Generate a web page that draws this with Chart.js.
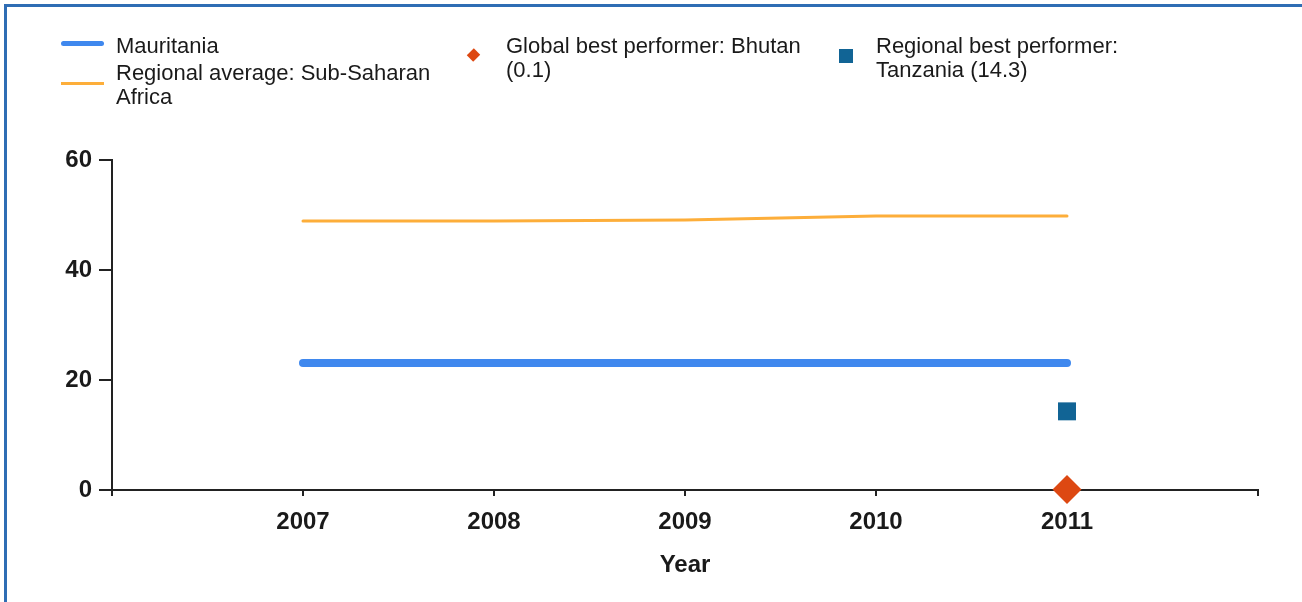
<!DOCTYPE html>
<html>
<head>
<meta charset="utf-8">
<script src="https://cdn.jsdelivr.net/npm/chart.js@4"></script>
<style>
  html, body { margin: 0; padding: 0; background: #fff; }
  #wrap { position: relative; width: 1302px; height: 602px; overflow: hidden; }
  #frame { position: absolute; left: 4px; top: 4px; right: -10px; bottom: -10px;
           border-top: 3px solid #2f6db4; border-left: 3px solid #2f6db4; }
  canvas { position: absolute; left: 0; top: 0; }
  .lg { position: absolute; font-family: "Liberation Sans", Arial, sans-serif; font-size: 22px;
        line-height: 24px; color: #1a1a1a; white-space: nowrap; }
  .sw { position: absolute; }
</style>
</head>
<body>
<div id="wrap">
  <div id="frame"></div>
  <canvas id="chart" width="1302" height="602"></canvas>

  <!-- legend -->
  <div class="sw" style="left:61px;top:41px;width:43px;height:5px;background:#3f88ee;border-radius:3px"></div>
  <div class="lg" style="left:116px;top:34px">Mauritania</div>
  <div class="sw" style="left:61px;top:82px;width:43px;height:3px;background:#fdae3a"></div>
  <div class="lg" style="left:116px;top:61px">Regional average: Sub-Saharan<br>Africa</div>

  <div class="sw" style="left:469px;top:50px;width:9px;height:10px;background:#dd4812;transform:rotate(45deg)"></div>
  <div class="lg" style="left:506px;top:34px">Global best performer: Bhutan<br>(0.1)</div>

  <div class="sw" style="left:839px;top:49px;width:14px;height:14px;background:#116495"></div>
  <div class="lg" style="left:876px;top:34px">Regional best performer:<br>Tanzania (14.3)</div>
</div>

<script>
// years on the x axis
const years = [2007, 2008, 2009, 2010, 2011];
const mauritania = [23.1, 23.1, 23.1, 23.1, 23.1];
const regionalAverage = [48.9, 48.9, 49.1, 49.8, 49.8];

// best performers, shown only for the last year
const globalBestYear = 2011;
const globalBestValue = 0.1;
const regionalBestYear = 2011;
const regionalBestValue = 14.3;

const yTicks = [0, 20, 40, 60];

const toPoints = (vals) => years.map((yr, i) => ({ x: yr, y: vals[i] }));

const tickFont = { family: "Liberation Sans, Arial, sans-serif", size: 24, weight: "bold" };
const axisColor = "#222";

new Chart(document.getElementById("chart").getContext("2d"), {
  type: "line",
  data: {
    datasets: [
      {
        label: "Regional best performer: Tanzania (14.3)",
        data: [{ x: regionalBestYear, y: regionalBestValue }],
        showLine: false,
        pointStyle: "rect",
        pointRadius: 12.7,
        pointBackgroundColor: "#116495",
        pointBorderWidth: 0,
        clip: false,
      },
      {
        label: "Global best performer: Bhutan (0.1)",
        data: [{ x: globalBestYear, y: globalBestValue }],
        showLine: false,
        pointStyle: "rectRot",
        pointRadius: 14.5,
        pointBackgroundColor: "#dd4812",
        pointBorderWidth: 0,
        clip: false,
      },
      {
        label: "Mauritania",
        data: toPoints(mauritania),
        borderColor: "#3f88ee",
        borderWidth: 8,
        borderCapStyle: "round",
        pointRadius: 0,
        tension: 0,
        clip: false,
      },
      {
        label: "Regional average: Sub-Saharan Africa",
        data: toPoints(regionalAverage),
        borderColor: "#fdae3a",
        borderWidth: 3,
        borderCapStyle: "round",
        pointRadius: 0,
        tension: 0,
        clip: false,
      },
    ],
  },
  options: {
    responsive: false,
    animation: false,
    events: [],
    layout: { padding: { left: 0, top: 160, right: 44, bottom: 0 } },
    plugins: { legend: { display: false }, tooltip: { enabled: false } },
    scales: {
      x: {
        type: "linear",
        min: 2006,
        max: 2012,
        afterFit: (scale) => { scale.height = 112; },
        ticks: {
          stepSize: 1,
          font: tickFont,
          color: "#1a1a1a",
          padding: 12,
          maxRotation: 0,
          callback: (v) => (years.includes(v) ? String(v) : ""),
        },
        grid: { drawOnChartArea: false, drawTicks: true, tickLength: 6, color: axisColor, lineWidth: 2 },
        border: { display: true, color: axisColor, width: 2 },
        title: {
          display: true,
          text: "Year",
          font: tickFont,
          color: "#1a1a1a",
          padding: { top: 22, bottom: 22 },
        },
      },
      y: {
        min: 0,
        max: 60,
        afterFit: (scale) => { scale.width = 112; },
        afterBuildTicks: (scale) => { scale.ticks = yTicks.map((v) => ({ value: v })); },
        ticks: { font: tickFont, color: "#1a1a1a", padding: 7 },
        grid: { drawOnChartArea: false, drawTicks: true, tickLength: 13, color: axisColor, lineWidth: 2 },
        border: { display: true, color: axisColor, width: 2 },
      },
    },
  },
});
</script>
</body>
</html>
